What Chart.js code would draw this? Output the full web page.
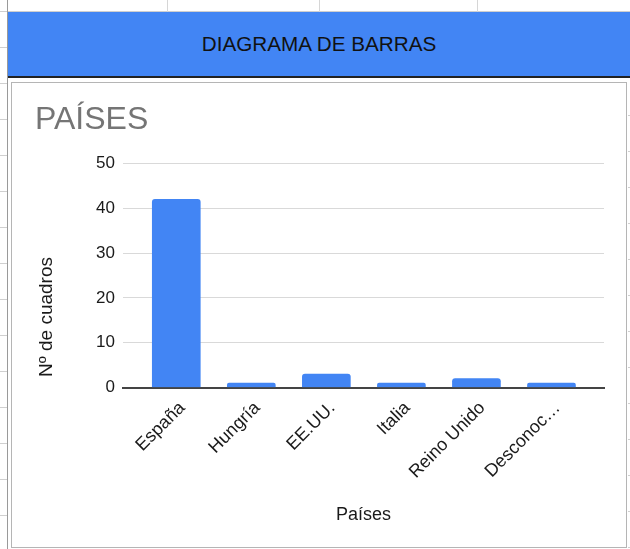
<!DOCTYPE html>
<html lang="es">
<head>
<meta charset="UTF-8">
<title>Diagrama de barras - Países</title>
<script src="https://cdn.jsdelivr.net/npm/chart.js@4.4.1/dist/chart.umd.min.js"></script>
<style>
    body {
        margin: 0;
        width: 630px;
        height: 549px;
        position: relative;
        overflow: hidden;
        background: #fff;
        font-family: Arial, "Liberation Sans", sans-serif;
    }
    /* trozo de hoja de cálculo alrededor del gráfico */
    .hoja-arriba {
        position: absolute; left: 0; top: 0; width: 630px; height: 11px;
        border-bottom: 1px solid #cfcfcf;
    }
    .col { position: absolute; top: 0; width: 1px; height: 12px; background: #d6d6d6; }
    .filas {
        position: absolute; left: 0; top: 12px; width: 7px; height: 537px;
        background: repeating-linear-gradient(to bottom, transparent 0, transparent 35px, #d0d0d0 35px, #d0d0d0 36px);
    }
    .borde-izq { position: absolute; left: 7px; top: 0; width: 1px; height: 549px; background: #9a9a9a; }
    .cabecera {
        position: absolute; left: 8px; top: 12px; width: 622px; height: 64px;
        background: #4285f4; border-bottom: 2px solid #222;
        display: flex; align-items: center; justify-content: center;
        font-size: 20.7px; color: #111;
    }
    .caja {
        position: absolute; left: 11px; top: 82px; width: 614px; height: 464px;
        border: 1px solid #b5b5b5; background: #fff;
    }
    .filas-der {
        position: absolute; left: 628px; top: 80px; width: 2px; height: 469px;
        background: repeating-linear-gradient(to bottom, transparent 0, transparent 35px, #d0d0d0 35px, #d0d0d0 36px);
    }
</style>
</head>
<body>
    <div class="hoja-arriba"></div>
    <div class="col" style="left:167px"></div>
    <div class="col" style="left:319px"></div>
    <div class="col" style="left:477px"></div>
    <div class="filas"></div>
    <div class="borde-izq"></div>
    <div class="cabecera">DIAGRAMA DE BARRAS</div>
    <div class="caja">
        <canvas id="grafico" width="614" height="464"></canvas>
    </div>
    <div class="filas-der"></div>

<script>
    // datos
    const paises = ['España', 'Hungría', 'EE.UU.', 'Italia', 'Reino Unido', 'Desconoc…'];
    const cuadros = [42, 1, 3, 1, 2, 1];
    const marcasY = [0, 10, 20, 30, 40, 50];

    const azul = '#4285f4';

    // eje x lineal para dejar margen a los lados (como en la hoja de cálculo)
    const puntos = paises.map((p, i) => ({ x: i, y: cuadros[i] }));

    const ctx = document.getElementById('grafico').getContext('2d');
    new Chart(ctx, {
        type: 'bar',
        data: {
            datasets: [{
                label: 'Nº de cuadros',
                data: puntos,
                backgroundColor: azul,
                barThickness: 48,
                borderRadius: 3
            }]
        },
        options: {
            responsive: false,
            animation: false,
            layout: { padding: { left: 23, right: 22, top: 0, bottom: 0 } },
            plugins: {
                legend: { display: false },
                tooltip: { enabled: false },
                title: {
                    display: true,
                    text: 'PAÍSES',
                    align: 'start',
                    color: '#757575',
                    font: { family: 'Arial', size: 32, weight: 'normal' },
                    padding: { top: 18, bottom: 24 }
                }
            },
            scales: {
                x: {
                    type: 'linear',
                    offset: false,
                    min: -0.71,
                    max: 5.7,
                    afterBuildTicks: (eje) => { eje.ticks = paises.map((p, i) => ({ value: i })); },
                    afterFit: (eje) => { eje.height = 159.5; },
                    grid: { display: false, drawTicks: false },
                    border: { display: true, color: '#444', width: 2 },
                    ticks: {
                        minRotation: 45,
                        maxRotation: 45,
                        padding: 10,
                        labelOffset: 6,
                        color: '#1a1a1a',
                        font: { family: 'Arial', size: 18 },
                        callback: (v) => paises[v]
                    },
                    title: {
                        display: true,
                        text: 'Países',
                        color: '#1a1a1a',
                        font: { family: 'Arial', size: 18 },
                        padding: { top: 0, bottom: 21 }
                    }
                },
                y: {
                    min: 0,
                    max: 50,
                    afterBuildTicks: (eje) => { eje.ticks = marcasY.map(v => ({ value: v })); },
                    afterFit: (eje) => { eje.width = 88; },
                    grid: { color: '#d9d9d9', drawTicks: false },
                    border: { display: false },
                    ticks: {
                        padding: 8,
                        color: '#1a1a1a',
                        font: { family: 'Arial', size: 17 }
                    },
                    title: {
                        display: true,
                        text: '  Nº de cuadros',
                        align: 'start',
                        color: '#1a1a1a',
                        font: { family: 'Arial', size: 19 },
                        padding: { top: 0, bottom: 0 }
                    }
                }
            }
        }
    });
</script>
</body>
</html>
